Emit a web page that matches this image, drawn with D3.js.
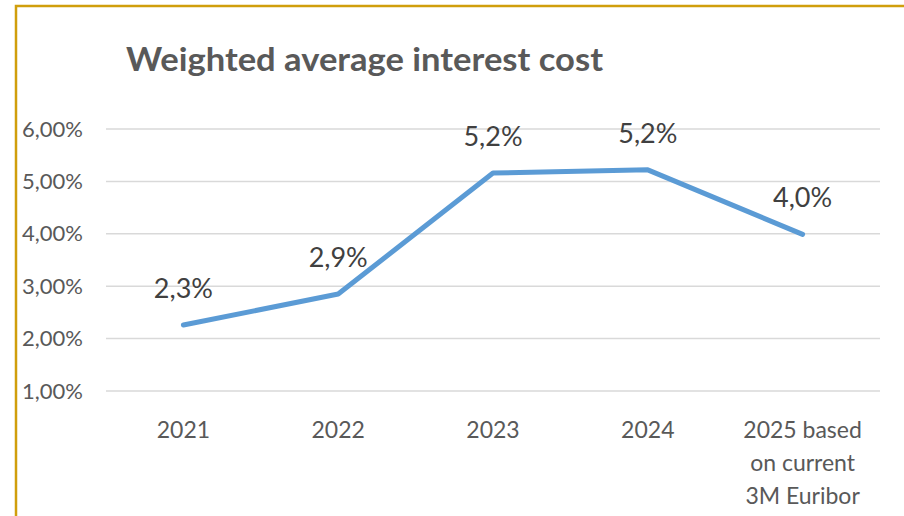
<!DOCTYPE html>
<html>
<head>
<meta charset="utf-8">
<script src="https://cdn.jsdelivr.net/npm/d3@7"></script>
<style>
  body { margin: 0; background: #fff; }
  svg { display: block; font-family: Lato, "Open Sans", sans-serif; }
</style>
</head>
<body>
<svg id="chart" width="904" height="516"></svg>
<script>
// data
const categories = ['2021', '2022', '2023', '2024', '2025 based\non current\n3M Euribor'];
const values = [2.26, 2.85, 5.16, 5.22, 3.99];
const valueLabels = ['2,3%', '2,9%', '5,2%', '5,2%', '4,0%'];
const yTicks = [1, 2, 3, 4, 5, 6];
const chartTitle = 'Weighted average interest cost';

const svg = d3.select('#chart');
const width = 904, height = 516;
const margin = {top: 129, right: 24, bottom: 125, left: 106};
const innerWidth = width - margin.left - margin.right;
const innerHeight = height - margin.top - margin.bottom;

// gold frame (top + left only visible)
svg.append('path')
    .attr('d', `M16,${height} L16,6 L${width},6`)
    .attr('fill', 'none')
    .attr('stroke', '#D09E0C')
    .attr('stroke-width', 2.5);

svg.append('text')
    .attr('x', 126)
    .attr('y', 71)
    .attr('font-size', 32)
    .attr('font-weight', 'bold')
    .attr('fill', '#595959')
    .attr('textLength', 477)
    .attr('lengthAdjust', 'spacingAndGlyphs')
    .text(chartTitle);

const x = d3.scaleBand()
    .domain(categories)
    .range([0, innerWidth]);

const y = d3.scaleLinear()
    .domain([1, 6])
    .range([innerHeight, 0]);

const g = svg.append('g')
    .attr('transform', `translate(${margin.left},${margin.top})`);

// gridlines
g.append('g')
    .selectAll('line')
    .data(yTicks)
    .join('line')
    .attr('x1', 0)
    .attr('x2', innerWidth)
    .attr('y1', d => y(d))
    .attr('y2', d => y(d))
    .attr('stroke', '#d9d9d9')
    .attr('stroke-width', 1.5);

// y axis labels
const yAxis = d3.axisLeft(y)
    .tickValues(yTicks)
    .tickSize(0)
    .tickPadding(23)
    .tickFormat(d => d3.format('.2f')(d).replace('.', ',') + '%');

g.append('g')
    .call(yAxis)
    .call(a => a.select('.domain').remove())
    .attr('font-family', null)
    .attr('font-size', null)
    .selectAll('text')
    .attr('font-size', 22)
    .attr('fill', '#595959');

// x axis labels, multi-line
const xLab = g.append('g')
    .attr('transform', `translate(0,${innerHeight})`)
    .selectAll('text')
    .data(categories)
    .join('text')
    .attr('x', d => x(d) + x.bandwidth() / 2)
    .attr('y', 47)
    .attr('text-anchor', 'middle')
    .attr('font-size', 23)
    .attr('fill', '#595959');

xLab.selectAll('tspan')
    .data(d => d.split('\n'))
    .join('tspan')
    .attr('x', function () { return d3.select(this.parentNode).attr('x'); })
    .attr('dy', (d, i) => i === 0 ? 0 : 33)
    .text(d => d);

const pts = categories.map((c, i) => ({c, v: values[i], label: valueLabels[i]}));

const line = d3.line()
    .x(d => x(d.c) + x.bandwidth() / 2)
    .y(d => y(d.v));

g.append('path')
    .datum(pts)
    .attr('fill', 'none')
    .attr('stroke', '#5B9BD5')
    .attr('stroke-width', 5)
    .attr('stroke-linecap', 'round')
    .attr('stroke-linejoin', 'round')
    .attr('d', line);

g.append('g')
    .selectAll('text')
    .data(pts)
    .join('text')
    .attr('x', d => x(d.c) + x.bandwidth() / 2)
    .attr('y', d => y(d.v) - 27)
    .attr('text-anchor', 'middle')
    .attr('font-size', 27)
    .attr('fill', '#404040')
    .text(d => d.label);
</script>
</body>
</html>
